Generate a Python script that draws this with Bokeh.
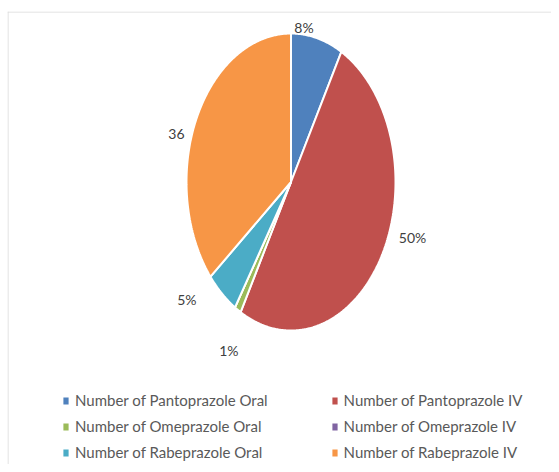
import numpy as np
from bokeh.plotting import figure
from bokeh.models import ColumnDataSource, Range1d, Legend, LegendItem, Span
from bokeh.core.properties import value
from bokeh.embed import file_html
from bokeh.resources import INLINE

categories = [
    "Number of Pantoprazole Oral",
    "Number of Pantoprazole IV",
    "Number of Omeprazole Oral",
    "Number of Omeprazole IV",
    "Number of Rabeprazole Oral",
    "Number of Rabeprazole IV",
]
values = [8, 50, 1, 0, 5, 36]
data_labels = ["8%", "50%", "1%", "", "5%", "36"]
colors = ["#4F81BD", "#C0504D", "#9BBB59", "#8064A2", "#4BACC6", "#F79646"]

# label nudges (screen px) relative to the slice's outer-edge midpoint
label_dx = [-13, 30, -9, 0, -35, -20]
label_dy = [-11, -16, 41, 0, 6, 15]

W, H = 551, 464
ML, MT = 7, 11
FW, FH = W - ML, H - MT
p = figure(width=W, height=H, output_backend="svg", toolbar_location=None,
           x_range=Range1d(0, FW), y_range=Range1d(0, FH),
           min_border_left=ML, min_border_right=0, min_border_top=MT, min_border_bottom=0)
p.axis.visible = False
p.grid.visible = False
p.outline_line_color = None
p.background_fill_color = "white"
p.border_fill_color = "white"

# chart-area border (top and left edges visible)
p.add_layout(Span(location=FH - 0.5, dimension="width", line_color="#D9D9D9", line_width=1))
p.add_layout(Span(location=0.5, dimension="height", line_color="#D9D9D9", line_width=1))

cx, cy = 283.5, 282.5
rx, ry = 104.5, 148.5

vals = np.array(values, dtype=float)
fr = vals / vals.sum()
starts = np.concatenate([[0], np.cumsum(fr)[:-1]]) * 2 * np.pi
ends = np.cumsum(fr) * 2 * np.pi

xs, ys, lx, ly = [], [], [], []
for s, e in zip(starts, ends):
    n = max(2, int((e - s) / (2 * np.pi) * 720))
    t = np.linspace(s, e, n)
    xs.append([cx] + list(cx + rx * np.sin(t)) + [cx])
    ys.append([cy] + list(cy + ry * np.cos(t)) + [cy])
    m = (s + e) / 2
    lx.append(cx + rx * np.sin(m))
    ly.append(cy + ry * np.cos(m))

src = ColumnDataSource(dict(xs=xs, ys=ys, color=colors, name=categories))
r = p.patches("xs", "ys", source=src, fill_color="color", line_color="white", line_width=2)

lsrc = ColumnDataSource(dict(x=lx, y=ly, text=data_labels, dx=label_dx, dy=label_dy))
p.text("x", "y", text="text", source=lsrc, x_offset="dx", y_offset="dy",
       text_align="center", text_baseline="middle", text_color="#404040",
       text_font=value("Lato"), text_font_size="14px")

def make_legend(idx, x):
    items = [LegendItem(label=categories[i], renderers=[r], index=i) for i in idx]
    lg = Legend(items=items, location=(x, 3), orientation="vertical",
                glyph_width=9, glyph_height=11, label_standoff=5,
                label_text_font="Lato", label_text_font_size="15px",
                label_text_color="#595959", label_height=18, spacing=8,
                padding=0, margin=0, border_line_alpha=0,
                background_fill_alpha=0)
    return lg

p.add_layout(make_legend([0, 2, 4], 54))
p.add_layout(make_legend([1, 3, 5], 322.6))

open("out.html", "w").write(file_html(p, INLINE))
